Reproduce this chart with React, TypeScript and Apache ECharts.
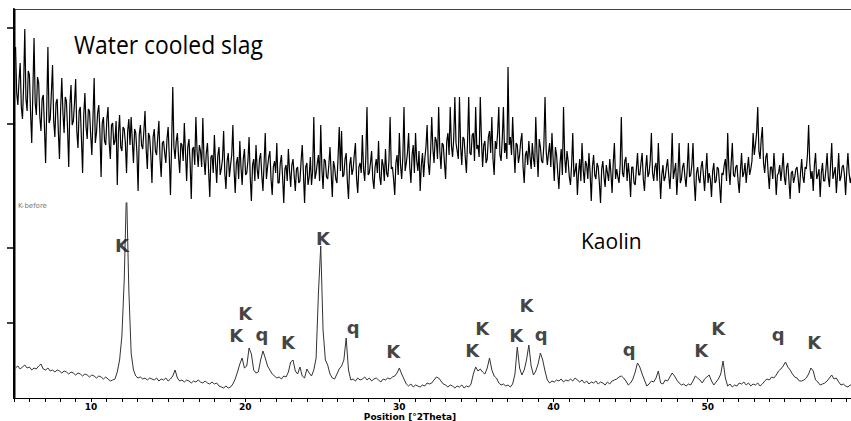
import React, { useEffect, useRef } from "react";
import * as echarts from "echarts";

const THETA_START = 5.1;
const SLAG_STEP = 0.075;
const KAOLIN_STEP = 0.15;

const slagCounts = [
  156, 110, 98, 122, 140, 96, 84, 118, 174, 104, 92, 132, 128, 90, 60, 112, 165, 100, 88, 126,
  120, 86, 72, 104, 108, 76, 40, 96, 156, 80, 84, 110, 138, 82, 66, 100, 104, 72, 44, 94,
  125, 90, 70, 106, 102, 74, 36, 98, 118, 78, 82, 100, 124, 72, 55, 92, 96, 64, 30, 88,
  110, 76, 64, 94, 92, 68, 48, 86, 125, 60, 70, 90, 98, 70, 26, 80, 86, 62, 58, 84,
  96, 60, 44, 78, 80, 58, 62, 82, 18, 70, 88, 56, 52, 76, 74, 60, 30, 72, 84, 58,
  86, 62, 40, 74, 70, 50, 12, 68, 78, 58, 54, 72, 92, 54, 34, 70, 66, 48, 20, 66,
  74, 52, 48, 66, 82, 44, 26, 60, 62, 50, 40, 64, 76, 46, 8, 58, 116, 56, 44, 62,
  70, 46, 30, 60, 58, 42, 80, 50, 22, 56, 64, 40, 4, 54, 56, 38, 86, 52, 36, 58,
  52, 36, 85, 44, 28, 50, 60, 32, 6, 46, 48, 30, 68, 40, 20, 48, 56, 28, 34, 44,
  72, 30, 14, 42, 50, 26, 38, 48, 78, 34, 10, 40, 46, 24, 62, 36, 18, 44, 54, 28,
  30, 42, 66, 26, 2, 38, 44, 22, 58, 34, 24, 44, 50, 28, 12, 40, 70, 24, 36, 46,
  52, 24, 8, 36, 42, 30, 60, 20, 20, 40, 48, 26, 0, 34, 38, 22, 54, 32, 16, 38,
  44, 28, 12, 34, 36, 20, 22, 42, 58, 30, 0, 36, 40, 18, 26, 46, 18, 32, 86, 24,
  30, 40, 48, 22, 78, 34, 14, 44, 42, 26, 24, 38, 56, 30, 6, 42, 36, 24, 20, 46,
  76, 32, 72, 26, 28, 44, 50, 22, 4, 38, 46, 28, 34, 48, 60, 24, 10, 36, 40, 30,
  68, 34, 22, 46, 96, 28, 30, 40, 52, 24, 14, 36, 44, 30, 62, 26, 18, 44, 38, 22,
  54, 30, 26, 42, 86, 34, 36, 24, 8, 40, 48, 28, 70, 38, 24, 46, 96, 32, 40, 50,
  70, 36, 20, 48, 58, 30, 70, 42, 32, 52, 12, 38, 50, 26, 44, 56, 78, 40, 28, 50,
  86, 54, 40, 66, 62, 44, 96, 52, 34, 60, 58, 40, 24, 62, 70, 48, 96, 58, 46, 64,
  106, 60, 52, 44, 106, 56, 38, 66, 64, 46, 30, 62, 106, 50, 48, 68, 70, 42, 96, 54,
  58, 46, 106, 64, 36, 58, 62, 40, 44, 66, 72, 50, 86, 44, 28, 62, 54, 70, 96, 48,
  42, 64, 96, 50, 60, 44, 136, 58, 66, 48, 86, 54, 30, 60, 58, 40, 48, 62, 70, 36,
  20, 48, 52, 38, 62, 46, 34, 60, 44, 36, 86, 50, 26, 64, 56, 42, 40, 58, 106, 52,
  38, 50, 60, 36, 70, 44, 22, 56, 48, 30, 14, 40, 54, 28, 96, 46, 30, 52, 42, 26,
  18, 38, 70, 26, 32, 40, 8, 30, 44, 22, 60, 34, 20, 42, 38, 24, 50, 30, 2, 36,
  48, 28, 24, 40, 36, 20, 0, 34, 42, 26, 16, 38, 30, 22, 44, 30, 10, 40, 60, 24,
  34, 26, 20, 38, 86, 30, 26, 42, 46, 22, 40, 28, 6, 36, 36, 20, 18, 34, 50, 28,
  28, 40, 50, 24, 12, 34, 48, 26, 30, 42, 70, 30, 22, 36, 40, 22, 60, 32, 4, 28,
  38, 22, 26, 36, 44, 28, 14, 34, 70, 24, 32, 40, 8, 30, 60, 20, 24, 36, 40, 26,
  16, 34, 60, 26, 28, 38, 60, 22, 2, 30, 36, 24, 20, 36, 42, 28, 12, 32, 50, 20,
  30, 24, 6, 32, 40, 20, 22, 36, 34, 18, 0, 30, 28, 38, 44, 22, 70, 34, 18, 40,
  60, 28, 26, 36, 38, 22, 10, 32, 50, 26, 30, 40, 20, 34, 46, 28, 34, 42, 70, 48,
  58, 70, 96, 52, 44, 64, 76, 40, 30, 46, 50, 30, 14, 36, 36, 24, 50, 32, 8, 28,
  30, 38, 22, 34, 50, 26, 18, 36, 40, 22, 4, 30, 32, 20, 26, 34, 36, 24, 10, 30,
  44, 26, 20, 36, 34, 48, 78, 40, 24, 32, 12, 38, 50, 24, 28, 34, 6, 30, 40, 22,
  22, 34, 50, 26, 16, 38, 60, 24, 30, 36, 10, 28, 50, 22, 26, 36, 38, 28, 8, 32, 50, 30, 20, 26, 34,
];

const kaolinCounts = [
  30, 32, 29, 31, 33, 30, 31, 28, 30, 29, 32, 34, 29, 28, 30, 27, 28, 26, 28, 27,
  25, 27, 26, 24, 26, 25, 23, 25, 24, 22, 24, 23, 21, 23, 22, 20, 22, 21, 19, 21,
  19, 17, 18, 19, 26, 38, 62, 118, 210, 108, 45, 28, 22, 20, 21, 19, 20, 18, 20, 19,
  18, 20, 17, 19, 18, 20, 17, 19, 22, 28, 20, 17, 18, 16, 18, 17, 15, 17, 16, 18,
  16, 15, 17, 15, 14, 16, 14, 15, 12, 11, 10, 12, 10, 11, 14, 19, 26, 34, 40, 30,
  32, 50, 44, 28, 25, 26, 38, 47, 40, 32, 28, 24, 22, 20, 21, 19, 22, 21, 26, 36,
  38, 27, 24, 31, 22, 20, 29, 25, 22, 28, 40, 105, 152, 68, 38, 33, 24, 20, 19, 24,
  29, 32, 38, 60, 28, 18, 19, 17, 20, 18, 19, 21, 18, 20, 17, 19, 20, 18, 16, 19,
  18, 20, 19, 21, 22, 25, 30, 24, 19, 14, 12, 14, 11, 13, 12, 11, 13, 12, 15, 14,
  15, 18, 21, 20, 17, 14, 13, 11, 13, 12, 10, 12, 11, 13, 10, 12, 11, 14, 24, 31,
  27, 29, 26, 24, 30, 40, 28, 22, 20, 15, 13, 14, 12, 13, 11, 14, 24, 51, 30, 23,
  28, 38, 53, 32, 23, 27, 34, 45, 38, 27, 18, 15, 17, 16, 18, 17, 19, 16, 18, 17,
  19, 17, 20, 18, 16, 18, 15, 17, 14, 16, 15, 17, 14, 16, 15, 13, 16, 14, 17, 18,
  19, 21, 22, 20, 17, 13, 15, 19, 26, 35, 31, 24, 18, 12, 14, 17, 16, 20, 27, 15,
  14, 18, 17, 21, 25, 22, 18, 15, 13, 14, 12, 14, 13, 17, 22, 20, 18, 15, 19, 21,
  23, 17, 13, 16, 19, 24, 37, 20, 12, 14, 11, 13, 12, 15, 14, 16, 13, 15, 12, 14,
  13, 15, 12, 14, 17, 19, 18, 21, 20, 23, 27, 29, 32, 36, 31, 28, 24, 21, 20, 17,
  17, 18, 20, 24, 30, 27, 18, 16, 13, 14, 15, 17, 20, 23, 19, 20, 16, 13, 14, 12, 11, 13, 12,
];

// axis ticks
const xLabelValues = [10, 20, 30, 40, 50];
const xTickValues = [
  5, 6, 7, 8, 9, 10, 11, 12, 13, 14, 15, 16, 17, 18, 19, 20, 21, 22, 23, 24, 25, 26, 27, 28, 29,
  30, 31, 32, 33, 34, 35, 36, 37, 38, 39, 40, 41, 42, 43, 44, 45, 46, 47, 48, 49, 50, 51, 52,
  53, 54, 55, 56, 57, 58, 59,
];
const slagYTicks = [79, 175];
const kaolinYTicks = [75, 150];

// phase labels: [text, 2θ, counts]
const peakLabels: [string, number, number][] = [
  ["K", 12.0, 153],
  ["K", 19.41, 63],
  ["K", 20.0, 85],
  ["q", 21.09, 64],
  ["K", 22.78, 56],
  ["K", 25.05, 160],
  ["q", 27.0, 71],
  ["K", 29.6, 47],
  ["K", 34.72, 48],
  ["K", 35.37, 70],
  ["K", 37.58, 63],
  ["K", 38.24, 93],
  ["q", 39.2, 64],
  ["q", 44.91, 49],
  ["K", 49.58, 48],
  ["K", 50.68, 70],
  ["q", 54.58, 64],
  ["K", 56.91, 56],
];

const toPairs = (arr: number[], step: number) =>
  arr.map((v, i) => [Math.round((THETA_START + i * step) * 1000) / 1000, v]);

export default function App() {
  const ref = useRef<HTMLDivElement>(null);

  useEffect(() => {
    if (!ref.current) return;
    const chart = echarts.init(ref.current, undefined, { renderer: "svg" });
    const xMin = 5;
    const xMax = 59.3;
    const yAxisCommon = {
      type: "value" as const,
      axisLine: { show: true, onZero: false, lineStyle: { color: "#000", width: 2 } },
      axisLabel: { show: false },
      splitLine: { show: false },
    };
    chart.setOption({
      animation: false,
      backgroundColor: "#fff",
      grid: [
        { left: 14, right: 0, top: 9, height: 194 },
        { left: 14, right: 0, top: 203, height: 195 },
      ],
      xAxis: [
        {
          type: "value",
          gridIndex: 0,
          min: xMin,
          max: xMax,
          axisLine: { show: false },
          axisTick: { show: false },
          axisLabel: { show: false },
          splitLine: { show: false },
        },
        {
          type: "value",
          gridIndex: 1,
          min: xMin,
          max: xMax,
          axisLine: { show: true, onZero: false, lineStyle: { color: "#000", width: 1 } },
          axisTick: { show: true, customValues: xTickValues, length: 4, lineStyle: { color: "#000", width: 1 } },
          axisLabel: {
            show: true,
            customValues: xLabelValues,
            fontSize: 9,
            fontWeight: "bold",
            fontFamily: "DejaVu Sans",
            color: "#000",
            margin: 4,
          },
          splitLine: { show: false },
        },
      ],
      yAxis: [
        {
          ...yAxisCommon,
          gridIndex: 0,
          min: 0,
          max: 194,
          axisTick: { show: true, customValues: slagYTicks, length: 7, lineStyle: { color: "#000", width: 1.5 } },
        },
        {
          ...yAxisCommon,
          gridIndex: 1,
          min: 0,
          max: 195,
          axisTick: { show: true, customValues: kaolinYTicks, length: 7, lineStyle: { color: "#000", width: 1.5 } },
        },
      ],
      series: [
        {
          type: "line",
          xAxisIndex: 0,
          yAxisIndex: 0,
          data: toPairs(slagCounts, SLAG_STEP),
          showSymbol: false,
          symbol: "none",
          lineStyle: { color: "#000", width: 1.2 },
          clip: true,
        },
        {
          type: "line",
          xAxisIndex: 1,
          yAxisIndex: 1,
          data: toPairs(kaolinCounts, KAOLIN_STEP),
          showSymbol: false,
          symbol: "none",
          lineStyle: { color: "#333", width: 1 },
          clip: true,
        },
        {
          type: "scatter",
          xAxisIndex: 1,
          yAxisIndex: 1,
          symbolSize: 1,
          itemStyle: { color: "rgba(0,0,0,0)" },
          data: peakLabels.map(([t, th, c]) => ({ name: t, value: [th, c] })),
          label: {
            show: true,
            position: "inside",
            formatter: "{b}",
            fontFamily: "DejaVu Sans",
            fontWeight: "bold",
            fontSize: 18,
            color: "#111",
          },
          z: 5,
        },
      ],
      graphic: [
        {
          type: "rect",
          z: 10,
          shape: { x: 14, y: 9, width: 837, height: 1 },
          style: { fill: "#444" },
        },
        {
          type: "rect",
          z: 10,
          shape: { x: 13, y: 9, width: 2.5, height: 389 },
          style: { fill: "#000" },
        },
        {
          type: "text",
          x: 74,
          y: 44,
          scaleX: 0.88,
          style: {
            text: "Water cooled slag",
            fontFamily: "Open Sans",
            fontSize: 26,
            fill: "#000",
            align: "left",
            verticalAlign: "middle",
          },
        },
        {
          type: "text",
          x: 581,
          y: 241,
          style: {
            text: "Kaolin",
            fontFamily: "Open Sans",
            fontSize: 21,
            fill: "#000",
            align: "left",
            verticalAlign: "middle",
          },
        },
        {
          type: "text",
          x: 410,
          y: 417,
          style: {
            text: "Position [°2Theta]",
            fontFamily: "DejaVu Sans",
            fontWeight: "bold",
            fontSize: 9,
            fill: "#000",
            align: "center",
            verticalAlign: "middle",
          },
        },
        {
          type: "text",
          x: 18,
          y: 206,
          style: {
            text: "K-before",
            fontFamily: "DejaVu Sans",
            fontSize: 7,
            fill: "#777",
            align: "left",
            verticalAlign: "middle",
          },
        },
      ],
    });
    return () => chart.dispose();
  }, []);

  return (
    <div
      ref={ref}
      style={{ position: "absolute", left: 0, top: 0, width: 851, height: 421 }}
    />
  );
}
